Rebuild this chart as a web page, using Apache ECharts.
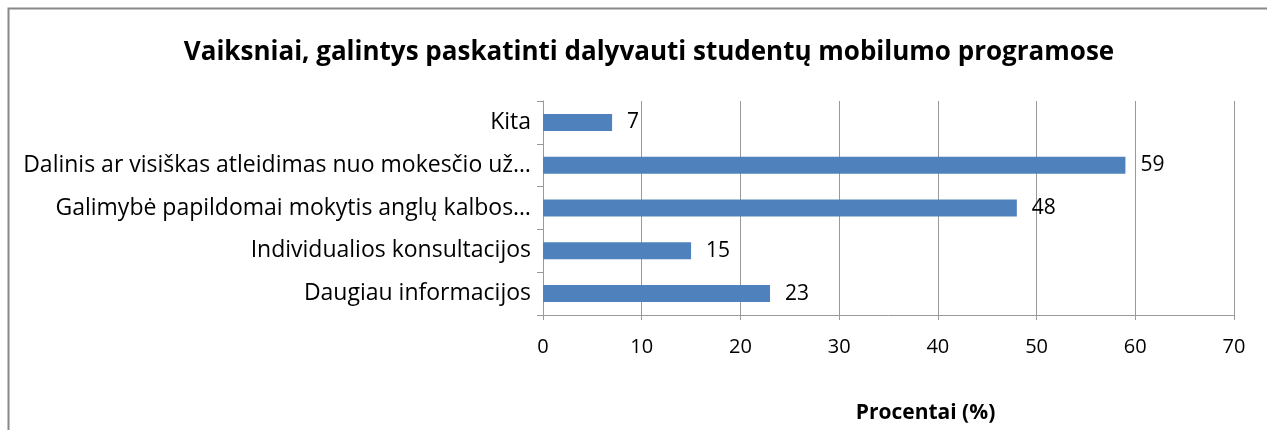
<!DOCTYPE html>
<html>
<head>
<meta charset="utf-8">
<script src="https://cdn.jsdelivr.net/npm/echarts@6/dist/echarts.min.js"></script>
<style>
html, body { margin: 0; padding: 0; background: #fff; }
#chart { width: 1267px; height: 430px; }
</style>
</head>
<body>
<div id="chart"></div>
<script>
var dom = document.getElementById("chart");
var myChart = echarts.init(dom);

// kategorijos (apacia -> virsus)
var categories = [
    'Daugiau informacijos',
    'Individualios konsultacijos',
    'Galimybė papildomai mokytis anglų kalbos…',
    'Dalinis ar visiškas atleidimas nuo mokesčio už…',
    'Kita'
];
var values = [23, 15, 48, 59, 7];
var xTicks = [0, 10, 20, 30, 40, 50, 60, 70];

var font = '"Open Sans", sans-serif';

var option = {
    animation: false,
    title: {
        text: 'Vaiksniai, galintys paskatinti dalyvauti studentų mobilumo programose',
        left: 644,
        textAlign: 'center',
        top: 35,
        textStyle: { fontFamily: font, fontSize: 26, fontWeight: 'bold', color: '#000' }
    },
    graphic: [{
        type: 'rect',
        shape: { x: 8.5, y: 8.5, width: 1300, height: 500 },
        style: { fill: 'none', stroke: '#888', lineWidth: 2 },
        silent: true
    }],
    grid: { left: 543, right: 33, top: 101, bottom: 115 },
    xAxis: {
        type: 'value',
        min: 0,
        max: 70,
        interval: 10,
        name: 'Procentai (%)',
        nameLocation: 'middle',
        nameGap: 88,
        nameTextStyle: { fontFamily: font, fontSize: 21, fontWeight: 'bold', color: '#000', padding: [0, 0, 0, 74] },
        axisLine: { show: true, lineStyle: { color: '#999', width: 1 } },
        axisTick: { show: true, length: 5, lineStyle: { color: '#999' } },
        axisLabel: {
            margin: 22,
            fontFamily: font, fontSize: 20, color: '#000',
            formatter: function (v) { return xTicks.indexOf(v) >= 0 ? String(v) : ''; }
        },
        splitLine: { show: true, lineStyle: { color: '#999', width: 1 } }
    },
    yAxis: {
        type: 'category',
        data: categories,
        axisLine: { show: true, lineStyle: { color: '#999', width: 1 } },
        axisTick: { show: true, length: 6, lineStyle: { color: '#999' } },
        axisLabel: { margin: 12, fontFamily: font, fontSize: 23, color: '#000' }
    },
    series: [{
        type: 'bar',
        data: values,
        barWidth: 17,
        itemStyle: { color: '#4F81BD' },
        label: {
            show: true,
            position: 'right',
            distance: 15,
            fontFamily: font,
            fontSize: 21,
            color: '#000'
        }
    }]
};

myChart.setOption(option);
window.onresize = function () { myChart.resize(); };
</script>
</body>
</html>
